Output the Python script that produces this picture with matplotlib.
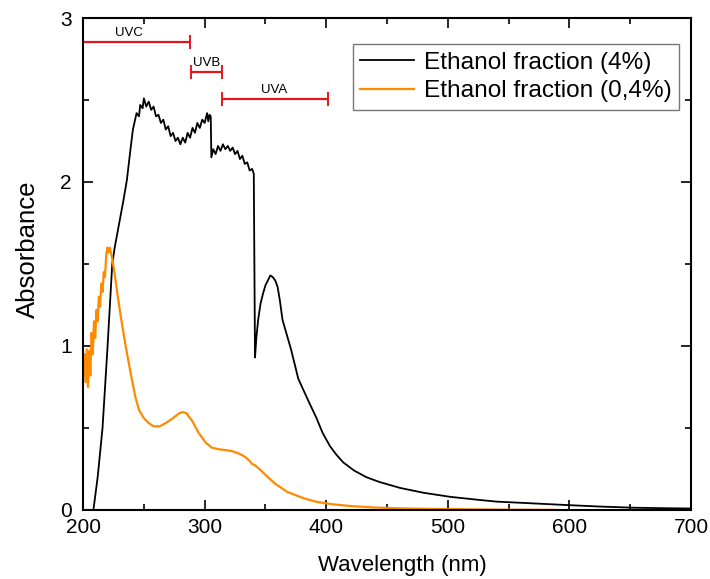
import matplotlib
matplotlib.use("Agg")
import matplotlib.pyplot as plt
from matplotlib.ticker import MultipleLocator

plt.rcParams['font.family'] = ['Liberation Sans', 'DejaVu Sans']

# Ethanol fraction (4%)
wl_4 = [208.5, 212, 216, 220, 224, 226, 229, 233, 236, 239, 241, 244, 246, 247, 249,
        250, 252, 254, 256, 258, 260, 262, 264, 266, 268, 270, 272, 274, 276, 278,
        280, 282, 284, 286, 288, 290, 292, 294, 296, 298, 300, 302, 303, 304, 305,
        305.5, 307, 309, 311, 313, 315, 317, 319, 321, 323, 325, 327, 329, 331, 333,
        335, 337, 339, 340.4, 341.4, 342.5, 344, 346, 348, 350, 352, 354, 356, 358,
        360, 362, 364, 371, 377, 385, 392, 397, 403, 408, 414, 423, 433, 444, 461,
        480, 502, 525, 540, 568, 598, 625, 652, 676, 699, 700]
abs_4 = [0.0, 0.2, 0.5, 0.98, 1.5, 1.6, 1.72, 1.88, 2.01, 2.2, 2.32, 2.42, 2.40, 2.47, 2.45,
         2.51, 2.46, 2.49, 2.44, 2.46, 2.40, 2.41, 2.36, 2.38, 2.32, 2.34, 2.28, 2.30, 2.25, 2.27,
         2.23, 2.27, 2.24, 2.30, 2.27, 2.33, 2.30, 2.36, 2.33, 2.38, 2.36, 2.42, 2.37, 2.41, 2.40,
         2.15, 2.20, 2.17, 2.22, 2.19, 2.23, 2.20, 2.22, 2.19, 2.21, 2.17, 2.19, 2.14, 2.16, 2.11,
         2.12, 2.07, 2.08, 2.05, 0.93, 1.05, 1.16, 1.26, 1.32, 1.37, 1.40, 1.43, 1.42, 1.40,
         1.36, 1.27, 1.16, 0.98, 0.80, 0.67, 0.56, 0.47, 0.39, 0.34, 0.29, 0.24, 0.20, 0.17, 0.134,
         0.105, 0.08, 0.062, 0.051, 0.041, 0.030, 0.021, 0.014, 0.011, 0.009, 0.008]

# Ethanol fraction (0,4%)
wl_04 = [200, 201, 202, 203, 204, 205, 206, 207, 208, 209, 210, 211, 212, 213, 214,
         215, 216, 217, 218, 219, 220, 221, 222, 224, 226, 228, 231, 235, 239, 243,
         246, 250, 254, 258, 263, 268, 274, 279, 282, 285, 290, 295, 301, 306, 312,
         317, 322, 328, 333, 337, 339, 341, 345, 352, 358, 368, 382, 392, 405, 420,
         440, 460, 490, 520, 550, 588]
abs_04 = [0.85, 0.95, 0.78, 0.98, 0.75, 0.97, 0.82, 1.08, 0.95, 1.15, 1.05, 1.22, 1.15, 1.30, 1.24,
          1.38, 1.33, 1.45, 1.42, 1.55, 1.60, 1.57, 1.60, 1.53, 1.44, 1.33, 1.18, 1.0, 0.84, 0.69,
          0.61, 0.56, 0.53, 0.51, 0.51, 0.53, 0.56, 0.59, 0.597, 0.59, 0.54, 0.47, 0.41, 0.38, 0.37,
          0.365, 0.36, 0.345, 0.325, 0.30, 0.28, 0.275, 0.25, 0.20, 0.16, 0.11, 0.07, 0.05, 0.035, 0.024,
          0.015, 0.01, 0.006, 0.004, 0.002, 0.001]

# UV bands drawn as bars on top
uv_names = ['UVC', 'UVB', 'UVA']
uv_start = [200, 289, 314]
uv_end = [288, 314, 401.5]
uv_level = [2.856, 2.673, 2.506]
uv_label_x = [238, 302, 357]
uv_label_y = [2.91, 2.726, 2.563]

fig = plt.figure(figsize=(7.10, 5.79), dpi=100)
ax = fig.add_axes([0.117, 0.1192, 0.8563, 0.8497])

ax.plot(wl_4, abs_4, color='black', lw=1.3, label='Ethanol fraction (4%)')
ax.plot(wl_04, abs_04, color='#ff8a00', lw=1.6, label='Ethanol fraction (0,4%)')

for a, b, lev in zip(uv_start, uv_end, uv_level):
    mid = (a + b) / 2.0
    ax.errorbar([mid], [lev], xerr=[[mid - a], [b - mid]], fmt='none', ecolor='#e8141c',
                elinewidth=1.6, capsize=5, capthick=1.4)
for name, lx, ly in zip(uv_names, uv_label_x, uv_label_y):
    ax.text(lx, ly, name, fontsize=9.5, ha='center', va='center')

ax.set_xlim(200, 700)
ax.set_ylim(0, 3)
ax.xaxis.set_major_locator(MultipleLocator(100))
ax.xaxis.set_minor_locator(MultipleLocator(50))
ax.yaxis.set_major_locator(MultipleLocator(1))
ax.yaxis.set_minor_locator(MultipleLocator(0.5))
ax.tick_params(which='both', direction='in', top=True, right=True, width=1.2, labelsize=15)
ax.tick_params(which='major', length=7)
ax.tick_params(which='minor', length=4)
ax.tick_params(axis='y', pad=8)
ax.tick_params(axis='x', pad=6)
for sp in ax.spines.values():
    sp.set_linewidth(1.5)

ax.set_xlabel('Wavelength (nm)', fontsize=16)
ax.xaxis.label.set_va('center')
ax.xaxis.set_label_coords(0.526, -0.112)
ax.set_ylabel('Absorbance', fontsize=18.5)
ax.yaxis.label.set_va('center')
ax.yaxis.set_label_coords(-0.09, 0.53)

leg = ax.legend(loc='upper left', bbox_to_anchor=(0.444, 0.947), borderaxespad=0,
                fontsize=17.6, handlelength=2.2, handletextpad=0.4, labelspacing=0.27,
                borderpad=0.3, fancybox=False, framealpha=1)
leg.get_frame().set_edgecolor('#777777')
leg.get_frame().set_linewidth(1.0)

fig.savefig('out.png', dpi=100)
